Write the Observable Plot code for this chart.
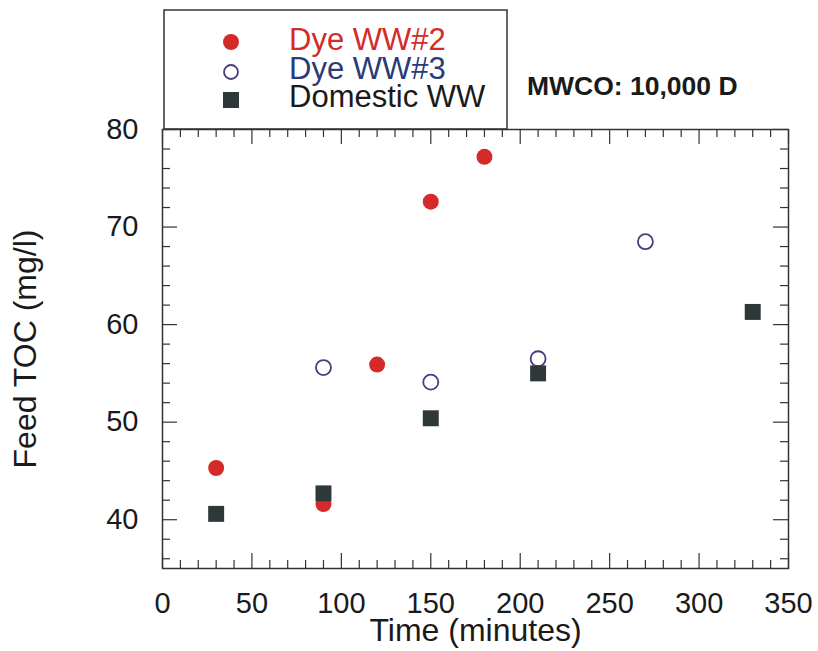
<!DOCTYPE html>
<html>
<head>
<meta charset="utf-8">
<script src="https://cdn.jsdelivr.net/npm/d3@7"></script>
<script src="https://cdn.jsdelivr.net/npm/@observablehq/plot@0.6"></script>
<style>
  body { margin: 0; background: #fff; }
  #chart { width: 818px; height: 651px; }
  svg { font-family: "Liberation Sans", Arial, Helvetica, sans-serif; }
</style>
</head>
<body>
<div id="chart"></div>
<script>
// ---- data ----
const dye2Time = [30, 90, 120, 150, 180];
const dye2TOC  = [45.3, 41.6, 55.9, 72.6, 77.2];
const dye3Time = [90, 150, 210, 270];
const dye3TOC  = [55.6, 54.1, 56.5, 68.5];
const domTime  = [30, 90, 150, 210, 330];
const domTOC   = [40.6, 42.7, 50.4, 55.0, 61.3];

const seriesNames = ["Dye WW#2", "Dye WW#3", "Domestic WW"];
const annotation = "MWCO: 10,000 D";
const xLabel = "Time (minutes)";
const yLabel = "Feed TOC (mg/l)";

const xMajorTicks = [0, 50, 100, 150, 200, 250, 300, 350];
const xMinorTicks = [10, 20, 30, 40, 60, 70, 80, 90, 110, 120, 130, 140, 160, 170, 180, 190,
                     210, 220, 230, 240, 260, 270, 280, 290, 310, 320, 330, 340];
const yMajorTicks = [40, 50, 60, 70, 80];
const yMinorTicks = [36, 38, 42, 44, 46, 48, 52, 54, 56, 58, 62, 64, 66, 68, 72, 74, 76, 78];

// ---- tables ----
const dye2 = dye2Time.map((t, i) => ({time: t, toc: dye2TOC[i]}));
const dye3 = dye3Time.map((t, i) => ({time: t, toc: dye3TOC[i]}));
const dom  = domTime.map((t, i) => ({time: t, toc: domTOC[i]}));

// ---- styles ----
const W = 818, H = 651;
const mL = 162, mR = 30, mT = 129, mB = 83;
const innerW = W - mL - mR, innerH = H - mT - mB;
const red = "#d42a2a", hollow = "#4a3a80", dark = "#2e3838", axisCol = "#333";
const minorLen = 8, majorLen = 15;

const chart = Plot.plot({
  width: W, height: H,
  marginLeft: mL, marginRight: mR, marginTop: mT, marginBottom: mB,
  x: {domain: [0, 350]},
  y: {domain: [35, 80]},
  style: {fontFamily: '"Liberation Sans", Arial, Helvetica, sans-serif', color: "#1a1a1a", background: "#fff"},
  marks: [
    // inward ticks, bottom/top
    Plot.tickX(xMinorTicks, {x: d => d, insetTop: innerH - minorLen, stroke: axisCol, strokeWidth: 1.2}),
    Plot.tickX(xMinorTicks, {x: d => d, insetBottom: innerH - minorLen, stroke: axisCol, strokeWidth: 1.2}),
    Plot.tickX(xMajorTicks, {x: d => d, insetTop: innerH - majorLen, stroke: axisCol, strokeWidth: 1.2}),
    Plot.tickX(xMajorTicks, {x: d => d, insetBottom: innerH - majorLen, stroke: axisCol, strokeWidth: 1.2}),
    // inward ticks, left/right
    Plot.tickY(yMinorTicks, {y: d => d, insetRight: innerW - minorLen, stroke: axisCol, strokeWidth: 1.2}),
    Plot.tickY(yMinorTicks, {y: d => d, insetLeft: innerW - minorLen, stroke: axisCol, strokeWidth: 1.2}),
    Plot.tickY(yMajorTicks, {y: d => d, insetRight: innerW - majorLen, stroke: axisCol, strokeWidth: 1.2}),
    Plot.tickY(yMajorTicks, {y: d => d, insetLeft: innerW - majorLen, stroke: axisCol, strokeWidth: 1.2}),
    Plot.frame({stroke: axisCol, strokeWidth: 1.5}),
    // tick labels
    Plot.axisX({ticks: xMajorTicks, tickSize: 0, tickPadding: 24, fontSize: 29,
      tickFormat: d => String(d), label: null}),
    Plot.axisY({ticks: yMajorTicks, tickSize: 0, tickPadding: 24, fontSize: 29,
      tickFormat: d => String(d), label: null}),
    // axis titles
    Plot.axisX({ticks: [], tickSize: 0, fontSize: 32,
      label: xLabel, labelAnchor: "center", labelOffset: 72, labelArrow: "none"}),
    Plot.axisY({ticks: [], tickSize: 0, fontSize: 32,
      label: yLabel, labelAnchor: "center", labelOffset: 149, labelArrow: "none"}),
    // data
    Plot.dot(dye2, {x: "time", y: "toc", r: 8, fill: red, stroke: "none"}),
    Plot.dot(dye3, {x: "time", y: "toc", r: 7.5, fill: "none", stroke: hollow, strokeWidth: 1.8}),
    Plot.dot(dom, {x: "time", y: "toc", r: 9, symbol: "square", fill: dark, stroke: "none"})
  ]
});

document.getElementById("chart").appendChild(chart);

// ---- legend box & annotation (drawn in the top margin of the plot svg) ----
const svg = d3.select(chart);
const lg = svg.append("g").attr("text-anchor", "start");
lg.append("rect").attr("x", 164).attr("y", 10).attr("width", 343).attr("height", 119)
  .attr("fill", "none").attr("stroke", axisCol).attr("stroke-width", 1.5);
const symX = 231, textX = 289;
const rows = [
  {y: 42, base: 50, color: red},
  {y: 72, base: 79, color: "#2b3a78"},
  {y: 100, base: 107, color: "#1a1a1a"}
];
lg.append("circle").attr("cx", symX).attr("cy", rows[0].y).attr("r", 8).attr("fill", red);
lg.append("circle").attr("cx", symX).attr("cy", rows[1].y).attr("r", 7).attr("fill", "none")
  .attr("stroke", hollow).attr("stroke-width", 1.8);
lg.append("rect").attr("x", symX - 8).attr("y", rows[2].y - 8).attr("width", 16).attr("height", 16).attr("fill", dark);
seriesNames.forEach((name, i) => {
  lg.append("text").attr("x", textX).attr("y", rows[i].base).attr("text-anchor", "start")
    .attr("font-size", 31).attr("fill", rows[i].color).text(name);
});
svg.append("text").attr("x", 527).attr("y", 95).attr("text-anchor", "start")
  .attr("font-size", 26.5).attr("font-weight", "bold")
  .attr("fill", "#1a1a1a").text(annotation);
</script>
</body>
</html>
